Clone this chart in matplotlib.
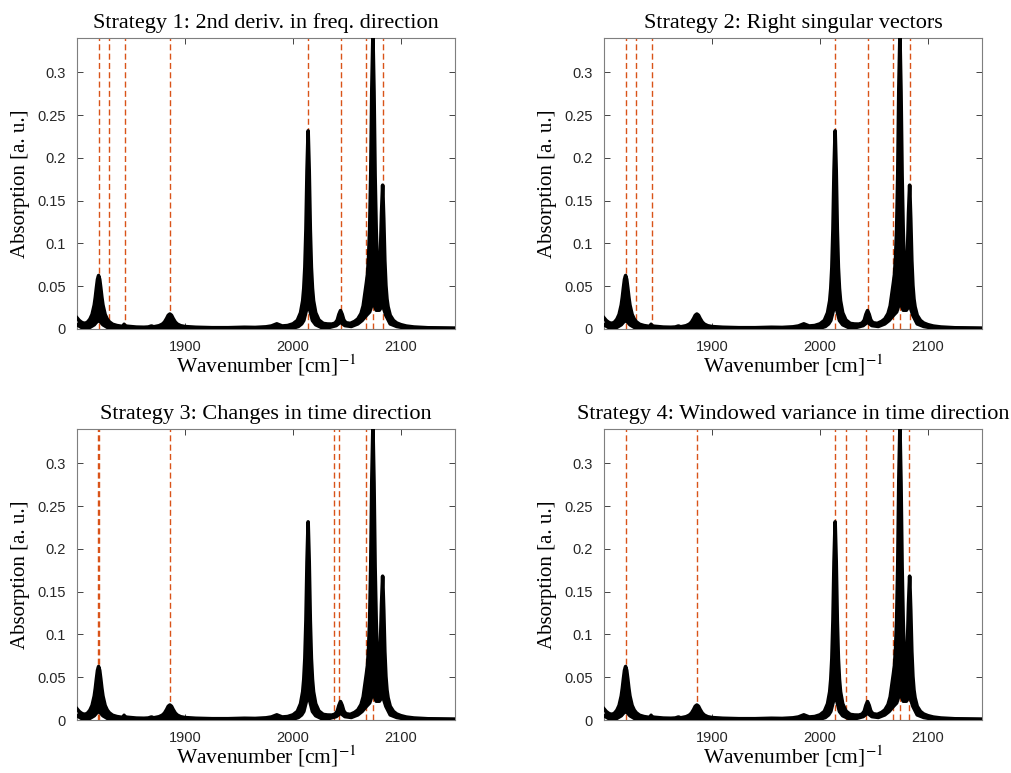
import matplotlib
matplotlib.use("Agg")
import matplotlib.pyplot as plt

# ---------------- data ----------------
# upper edge of the bundle of spectra
wn_upper = [1800, 1802, 1804, 1806, 1808, 1810, 1812, 1814, 1816, 1817, 1818, 1819, 1820,
            1821, 1822, 1823, 1824, 1826, 1828, 1830, 1833, 1837, 1841, 1843, 1843.6,
            1844.3, 1848, 1855, 1862, 1866, 1869, 1871, 1876, 1879, 1881, 1883, 1884.5,
            1886, 1887.5, 1889, 1891, 1893, 1896, 1900, 1910, 1925, 1940, 1955, 1965,
            1975, 1980, 1983, 1985, 1987, 1990, 1995, 2000, 2004, 2007, 2009, 2010,
            2011, 2012, 2013, 2014, 2015, 2016, 2017, 2018, 2019, 2021, 2024, 2028,
            2032, 2036, 2039, 2041, 2042.5, 2044, 2045.5, 2047, 2049, 2053, 2057, 2060,
            2063, 2065, 2067, 2068, 2069, 2070, 2071, 2072, 2073, 2074, 2075, 2076,
            2077, 2078, 2079, 2080, 2081, 2082, 2083, 2084, 2085, 2086, 2087, 2088,
            2090, 2093, 2096, 2100, 2105, 2112, 2125, 2150]
abs_upper = [0.013, 0.010, 0.008, 0.0068, 0.0068, 0.0083, 0.0115, 0.017, 0.028, 0.037, 0.048, 0.058, 0.0625,
             0.058, 0.048, 0.037, 0.028, 0.017, 0.0115, 0.0083, 0.0055, 0.004, 0.0032, 0.0035, 0.0055,
             0.0035, 0.003, 0.0022, 0.002, 0.0023, 0.0035, 0.0025, 0.0038, 0.0056, 0.008, 0.0122, 0.016,
             0.0175, 0.016, 0.0122, 0.008, 0.0056, 0.0038, 0.0028, 0.002, 0.0015, 0.0015, 0.002, 0.0018,
             0.0025, 0.0035, 0.005, 0.006, 0.005, 0.0035, 0.004, 0.006, 0.010, 0.019, 0.033, 0.0475,
             0.072, 0.1165, 0.185, 0.2315, 0.185, 0.1165, 0.072, 0.0475, 0.033, 0.019, 0.0105, 0.0065,
             0.0058, 0.0057, 0.0069, 0.0103, 0.017, 0.0215, 0.0172, 0.0106, 0.0073, 0.0065, 0.0088, 0.0117,
             0.018, 0.027, 0.045, 0.054, 0.064, 0.084, 0.117, 0.18, 0.281, 0.343, 0.277, 0.179,
             0.117, 0.078, 0.064, 0.066, 0.09, 0.136, 0.168, 0.129, 0.08, 0.051, 0.035, 0.026,
             0.016, 0.010, 0.007, 0.005, 0.0034, 0.0023, 0.0014, 0.001]

# lower edge of the bundle of spectra
wn_lower = [1800, 1804, 1808, 1812, 1816, 1818, 1820, 1822, 1824, 1828, 1835, 1860, 1880,
            1886, 1892, 1950, 1985, 2000, 2005, 2008, 2010, 2012, 2014, 2016, 2018, 2021,
            2026, 2034, 2040, 2044, 2048, 2054, 2060, 2064, 2068, 2071, 2074, 2077, 2080,
            2083, 2086, 2090, 2096, 2105, 2150]
abs_lower = [0.005, 0.002, 0.001, 0.002, 0.005, 0.008, 0.010, 0.008, 0.005, 0.002, 0.0005, 0.0003, 0.0005,
             0.002, 0.0005, 0.0003, 0.001, 0.001, 0.003, 0.006, 0.010, 0.020, 0.030, 0.020, 0.010, 0.005,
             0.002, 0.002, 0.004, 0.008, 0.004, 0.003, 0.006, 0.010, 0.016, 0.020, 0.032, 0.022, 0.022,
             0.028, 0.016, 0.006, 0.003, 0.001, 0.0003]

titles = ["Strategy 1: 2nd deriv. in freq. direction",
          "Strategy 2: Right singular vectors",
          "Strategy 3: Changes in time direction",
          "Strategy 4: Windowed variance in time direction"]

marker_lines = [
    [1820, 1830, 1844, 1886, 2014, 2044, 2068, 2074, 2083],
    [1820, 1830, 1844, 2014, 2044, 2068, 2074, 2083],
    [1819.5, 1820.3, 1886, 2038, 2043, 2068, 2074],
    [1820, 1886, 2014, 2024, 2043, 2068, 2074, 2082],
]

xticks = [1900, 2000, 2100]
yticks = [0, 0.05, 0.1, 0.15, 0.2, 0.25, 0.3]
ytick_labels = ["0", "0.05", "0.1", "0.15", "0.2", "0.25", "0.3"]
xlim = (1800, 2150)
ylim = (0, 0.34)

# ---------------- style ----------------
plt.rcParams["mathtext.fontset"] = "stix"
serif = ["Liberation Serif", "DejaVu Serif"]
sans = ["Liberation Sans", "DejaVu Sans"]
orange = "#D95319"
axis_gray = "#262626"

fig = plt.figure(figsize=(10.11, 7.73), dpi=100)
W, H = 1011, 773
boxes = [(77, 38), (604, 38), (77, 429), (604, 429)]
aw, ah = 378, 291

for i, (x0, y0) in enumerate(boxes):
    ax = fig.add_axes([x0 / W, (H - y0 - ah) / H, aw / W, ah / H])
    for xv in marker_lines[i]:
        ax.axvline(xv, color=orange, lw=1.0, ls=(0, (4.3, 2.4)), zorder=1)
    ax.fill(wn_upper + wn_lower[::-1], abs_upper + abs_lower[::-1],
            color="black", lw=0, zorder=2)
    ax.plot(wn_upper, abs_upper, color="black", lw=2.6, zorder=3,
            solid_joinstyle="round")
    ax.plot(wn_lower, abs_lower, color="black", lw=2.6, zorder=3,
            solid_joinstyle="round")
    ax.set_xlim(*xlim)
    ax.set_ylim(*ylim)
    ax.set_xticks(xticks)
    ax.set_xticklabels([str(t) for t in xticks], fontfamily=sans, fontsize=10.5, color=axis_gray)
    ax.set_yticks(yticks)
    ax.set_yticklabels(ytick_labels, fontfamily=sans, fontsize=10.5, color=axis_gray)
    ax.tick_params(direction="in", length=4, width=0.6, color=axis_gray,
                   top=True, right=True, pad=8)
    for sp in ax.spines.values():
        sp.set_color("#7f7f7f")
        sp.set_linewidth(0.8)
    ax.set_title(titles[i], fontfamily=serif, fontsize=16, pad=7)
    ax.set_xlabel("Wavenumber [cm]$^{-1}$", fontfamily=serif, fontsize=15.5, labelpad=-1)
    ax.set_ylabel("Absorption [a. u.]", fontfamily=serif, fontsize=15)
    ax.yaxis.set_label_coords(-0.124, 0.5)

fig.savefig("out.png", dpi=100)
